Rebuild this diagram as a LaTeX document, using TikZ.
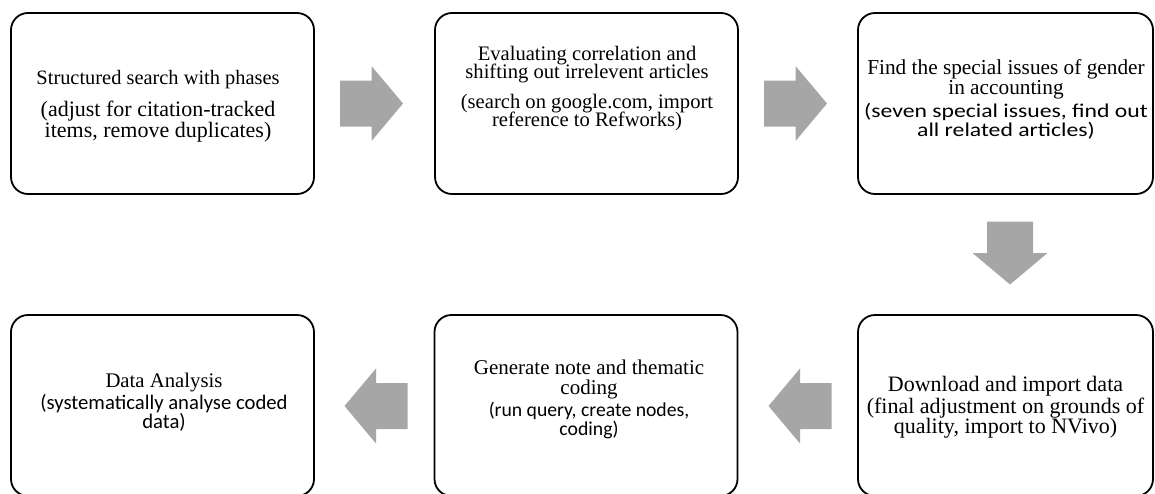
\documentclass[tikz,border=0pt]{standalone}
\usepackage{graphicx}
\usepackage{fontspec}
\setmainfont{Liberation Serif}
\newfontfamily\cbfont{Carlito}
\definecolor{arrowgray}{HTML}{A6A6A6}
% one line of a step text, in a given family and size
\newcommand\serifline[2]{{\fontsize{#1}{18.5}\selectfont #2}}
\newcommand\sansline[2]{{\cbfont\fontsize{#1}{18.5}\selectfont #2}}
% sans line set wider than its height: size, horizontal stretch, text
\newcommand\widesansline[3]{\scalebox{#2}[1]{\cbfont\fontsize{#1}{18.5}\selectfont #3}}
\tikzset{
  stepbox/.style={draw=black, line width=1.8pt, rounded corners=17pt,
    minimum width=303pt, minimum height=181pt, inner sep=0pt},
  % text of a step: font size, line distance
  steptext/.style 2 args={align=center, inner sep=0pt,
    execute at begin node={\lineskiplimit=-100pt\lineskip=0pt},
    font=\fontsize{#1}{#2}\selectfont},
  % grey block arrow pointing right, tail to tip 63, head 75 wide, shaft 46
  blockarrow/.pic={
    \fill[arrowgray] (-31.5,-23) -- (0,-23) -- (0,-37.5) -- (31.5,0)
      -- (0,37.5) -- (0,23) -- (-31.5,23) -- cycle;
  },
}
\begin{document}
\begin{tikzpicture}[x=1pt,y=-1pt]
\useasboundingbox (0,0) rectangle (1155,493);
\clip (0,0) rectangle (1155,493);

% top row of steps
\node[stepbox] (b1) at (162.5,103.5) {};
\node[stepbox] (b2) at (586.5,103.5) {};
\node[stepbox, minimum width=295pt] (b3) at (1005.5,103.5) {};
% bottom row of steps
\node[stepbox] (b4) at (162.5,405.5) {};
\node[stepbox] (b5) at (586,405.5) {};
\node[stepbox, minimum width=295pt] (b6) at (1005.5,405.5) {};

% step texts
\node[steptext={20.4}{20.5}] (t1) at (158,106.5) {Structured search with phases\\[11.5pt]
  \serifline{22}{(adjust for citation-tracked}\\
  \serifline{22}{items, remove duplicates)}};
\node[steptext={20.6}{18.5}] (t2) at (587,88.5) {Evaluating correlation and\\
  shifting out irrelevent articles\\[11pt]
  (search on google.com, import\\ reference to Refworks)};
\node[steptext={21.3}{19.5}] (t3) at (1006,99.5) {Find the special issues of gender\\
  in accounting\\[3.5pt]
  \widesansline{19.5}{1.215}{(seven special issues, find out}\\
  \widesansline{19.5}{1.215}{all related articles)}};
\node[steptext={20.75}{18.5}] (t4) at (164,402) {Data Analysis\\[3.5pt]
  \sansline{20.7}{(systematically analyse coded}\\
  \sansline{20.7}{data)}};
\node[steptext={21}{19.5}] (t5) at (589,399.5) {Generate note and thematic\\
  coding\\[2.5pt]
  \sansline{19.7}{(run query, create nodes,}\\
  \sansline{19.7}{coding)}};
\node[steptext={22}{20.5}] (t6) at (1005.5,407) {Download and import data\\[1.5pt]
  (final adjustment on grounds of\\ quality, import to NVivo)};

% block arrows leading from step to step
\pic (a12) at (371.5,103.5) {blockarrow};
\pic (a23) at (795.5,103.5) {blockarrow};
\pic[rotate=-90] (a36) at (1010,253) {blockarrow};
\pic[rotate=180] (a65) at (800,406) {blockarrow};
\pic[rotate=180] (a54) at (376,406) {blockarrow};
\end{tikzpicture}
\end{document}
